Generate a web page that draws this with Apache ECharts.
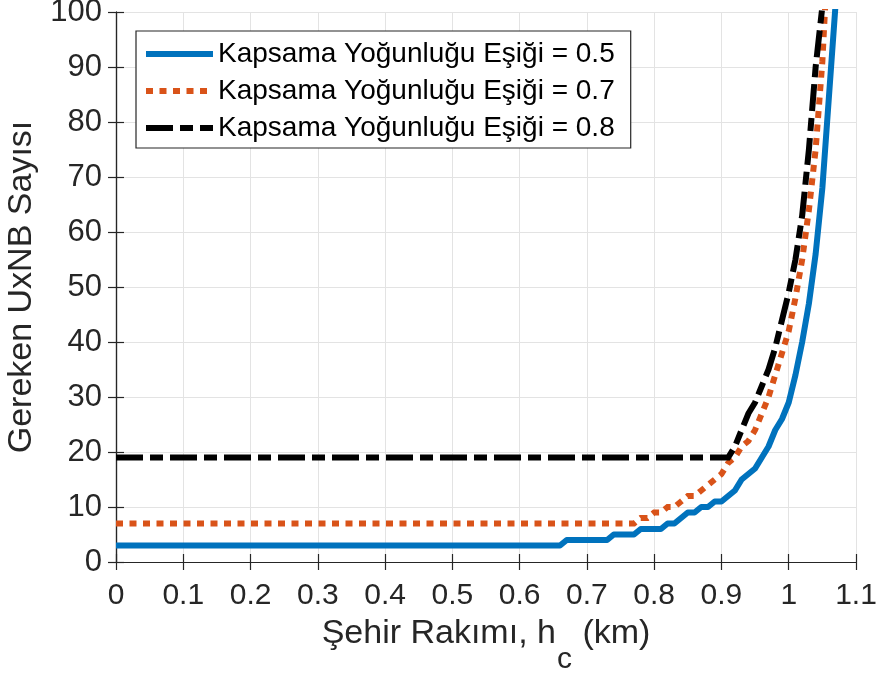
<!DOCTYPE html>
<html>
<head>
<meta charset="utf-8">
<script src="https://cdn.jsdelivr.net/npm/echarts@6/dist/echarts.min.js"></script>
<style>
  html, body { margin: 0; padding: 0; background: #ffffff; }
  #chart { width: 878px; height: 675px; }
</style>
</head>
<body>
<div id="chart"></div>
<script>
// City altitude h_c (km) sample positions
const hc = [0, 0.60, 0.61, 0.62, 0.63, 0.64, 0.65, 0.66, 0.67, 0.68, 0.69,
  0.70, 0.71, 0.72, 0.73, 0.74, 0.75, 0.76, 0.77, 0.78, 0.79,
  0.80, 0.81, 0.82, 0.83, 0.84, 0.85, 0.86, 0.87, 0.88, 0.89,
  0.90, 0.91, 0.92, 0.93, 0.94, 0.95, 0.96, 0.97, 0.98, 0.99,
  1.00, 1.01, 1.02, 1.03, 1.04, 1.05, 1.06, 1.07];

// Required number of UxNBs for each coverage-density threshold
const uxnb05 = [3, 3, 3, 3, 3, 3, 3, 3, 4, 4, 4,
  4, 4, 4, 4, 5, 5, 5, 5, 6, 6,
  6, 6, 7, 7, 8, 9, 9, 10, 10, 11,
  11, 12, 13, 15, 16, 17, 19, 21, 24, 26,
  29, 34, 40, 47, 56, 68, 85, 102];
const uxnb07 = [7, 7, 7, 7, 7, 7, 7, 7, 7, 7, 7,
  7, 7, 7, 7, 7, 7, 7, 7, 8, 8,
  9, 9, 10, 10, 11, 12, 12, 13, 14, 15,
  16, 18, 19, 21, 22, 24, 27, 30, 34, 38,
  42, 48, 55, 64, 75, 91, 115, '-'];
const uxnb08 = [19, 19, 19, 19, 19, 19, 19, 19, 19, 19, 19,
  19, 19, 19, 19, 19, 19, 19, 19, 19, 19,
  19, 19, 19, 19, 19, 19, 19, 19, 19, 19,
  19, 19, 21, 24, 27, 29, 32, 35, 39, 44,
  49, 55, 63, 75, 90, 101, '-', '-'];

const seriesNames = [
  'Kapsama Yoğunluğu Eşiği = 0.5',
  'Kapsama Yoğunluğu Eşiği = 0.7',
  'Kapsama Yoğunluğu Eşiği = 0.8'
];
const xTicks = [0, 0.1, 0.2, 0.3, 0.4, 0.5, 0.6, 0.7, 0.8, 0.9, 1, 1.1];

const pairs = ys => hc.map((x, i) => [x, ys[i]]);

const axisColor = '#262626';
const gridColor = '#e3e3e3';
const fontFamily = '"Liberation Sans", Arial, Helvetica, sans-serif';

const chart = echarts.init(document.getElementById('chart'), null, { renderer: 'canvas' });

// Box frame: top and right axes carry only inward ticks
const frameAxis = {
  type: 'value',
  axisLine: { show: true, lineStyle: { color: axisColor, width: 1.2 } },
  axisTick: { show: true, inside: true, length: 8, lineStyle: { color: axisColor, width: 1.2 } },
  axisLabel: { show: false },
  splitLine: { show: false }
};

chart.setOption({
  animation: false,
  backgroundColor: '#ffffff',
  grid: { left: 116, right: 22, top: 12, bottom: 113, containLabel: false, outerBoundsMode: 'none' },
  legend: {
    orient: 'vertical',
    left: 136,
    top: 31,
    data: seriesNames,
    itemWidth: 67,
    itemHeight: 14,
    itemGap: 7,
    padding: [8, 16, 5, 7],
    backgroundColor: '#ffffff',
    borderColor: axisColor,
    borderWidth: 1.2,
    borderRadius: 0,
    itemStyle: { opacity: 0 },
    lineStyle: { width: 'inherit', type: 'inherit', cap: 'butt' },
    textStyle: { fontFamily: fontFamily, fontSize: 28, color: '#000000', lineHeight: 30 }
  },
  xAxis: [
    {
      type: 'value',
      position: 'bottom',
      min: 0, max: 1.1, interval: 0.1,
      axisLine: { show: true, onZero: false, lineStyle: { color: axisColor, width: 1.2 } },
      axisTick: { show: true, inside: true, length: 8, lineStyle: { color: axisColor, width: 1.2 } },
      axisLabel: {
        color: axisColor, fontFamily: fontFamily, fontSize: 30, margin: 19,
        formatter: v => {
          const t = xTicks.find(k => Math.abs(k - v) < 1e-9);
          return t === undefined ? '' : String(t);
        }
      },
      splitLine: { show: true, lineStyle: { color: gridColor, width: 1 } },
      name: 'Şehir Rakımı, h{sub|c} (km)',
      nameLocation: 'middle',
      nameGap: 52,
      nameMoveOverlap: false,
      nameTextStyle: {
        color: axisColor, fontFamily: fontFamily, fontSize: 34, lineHeight: 40,
        rich: {
          sub: { fontFamily: fontFamily, fontSize: 30, color: axisColor, lineHeight: 30, padding: [52, 1, 0, 1] }
        }
      }
    },
    Object.assign({}, frameAxis, { position: 'top', min: 0, max: 1.1, interval: 0.1 })
  ],
  yAxis: [
    {
      type: 'value',
      position: 'left',
      min: 0, max: 100, interval: 10,
      axisLine: { show: true, lineStyle: { color: axisColor, width: 1.2 } },
      axisTick: { show: true, inside: true, length: 8, lineStyle: { color: axisColor, width: 1.2 } },
      axisLabel: { color: axisColor, fontFamily: fontFamily, fontSize: 31, margin: 14 },
      splitLine: { show: true, lineStyle: { color: gridColor, width: 1 } },
      name: 'Gereken UxNB Sayısı',
      nameLocation: 'middle',
      nameGap: 77,
      nameMoveOverlap: false,
      nameTextStyle: { color: axisColor, fontFamily: fontFamily, fontSize: 34 }
    },
    Object.assign({}, frameAxis, { position: 'right', min: 0, max: 100, interval: 10 })
  ],
  series: [
    {
      name: seriesNames[0],
      type: 'line',
      data: pairs(uxnb05),
      symbol: 'none',
      clip: true,
      lineStyle: { color: '#0072BD', width: 6, cap: 'butt', join: 'round' },
      itemStyle: { color: '#0072BD' },
      z: 3
    },
    {
      name: seriesNames[1],
      type: 'line',
      data: pairs(uxnb07),
      symbol: 'none',
      clip: true,
      lineStyle: { color: '#D95319', width: 6, type: [7, 6.5], cap: 'butt', join: 'miter' },
      itemStyle: { color: '#D95319' },
      z: 4
    },
    {
      name: seriesNames[2],
      type: 'line',
      data: pairs(uxnb08),
      symbol: 'none',
      clip: true,
      lineStyle: { color: '#000000', width: 6, type: [27, 7, 13, 7], cap: 'butt', join: 'miter' },
      itemStyle: { color: '#000000' },
      z: 5
    }
  ]
});
</script>
</body>
</html>
